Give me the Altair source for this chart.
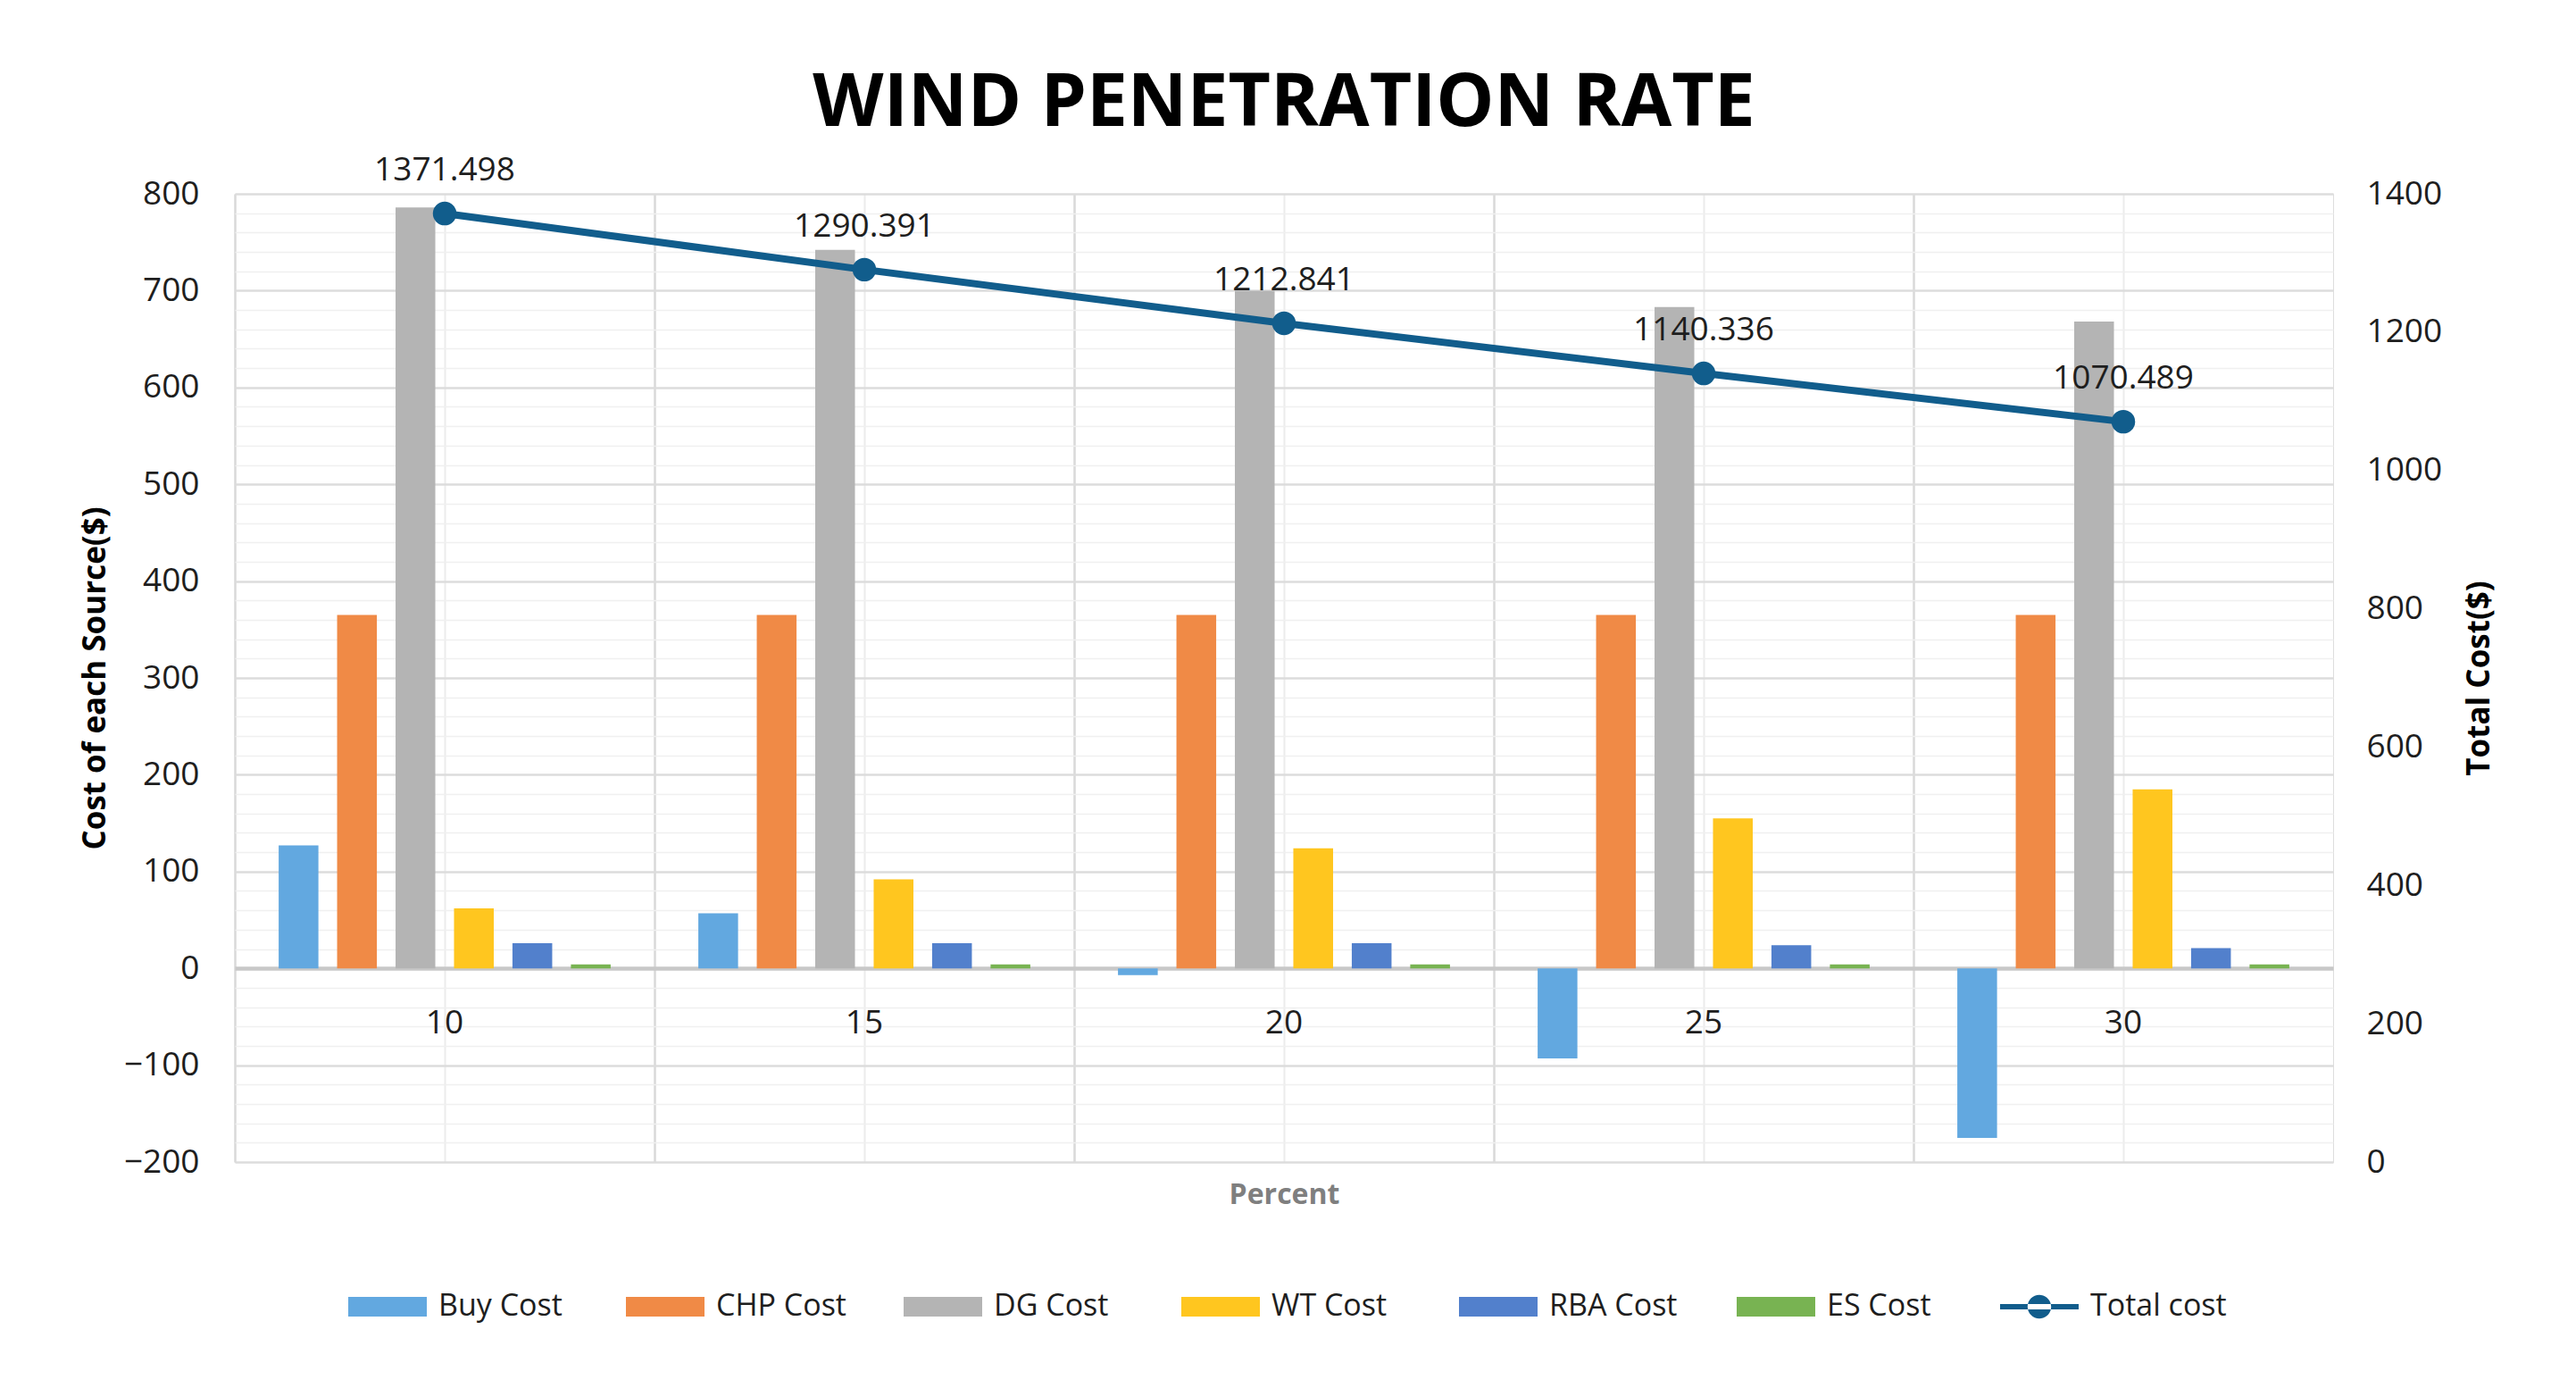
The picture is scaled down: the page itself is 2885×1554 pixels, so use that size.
import altair as alt
import pandas as pd

# ---- data ----
percent = [10, 15, 20, 25, 30]
series = ["Buy Cost", "CHP Cost", "DG Cost", "WT Cost", "RBA Cost", "ES Cost"]
buy_cost = [127, 57, -7, -93, -175]
chp_cost = [365, 365, 365, 365, 365]
dg_cost = [786, 742, 700, 683, 668]
wt_cost = [62, 92, 124, 155, 185]
rba_cost = [26, 26, 26, 24, 21]
es_cost = [4, 4, 4, 4, 4]
total_cost = [1371.498, 1290.391, 1212.841, 1140.336, 1070.489]
total_name = ["Total cost"] * 5

left_ticks = list(range(-200, 801, 20))
right_ticks = [0, 200, 400, 600, 800, 1000, 1200, 1400]

colors = ["#62A8E0", "#F08A46", "#B4B4B4", "#FFC61F", "#5280CC", "#78B352"]
LINE = "#115D8C"

rows = []
for i, p in enumerate(percent):
    for s, vals in zip(series, [buy_cost, chp_cost, dg_cost, wt_cost, rba_cost, es_cost]):
        rows.append({"Percent": p, "Series": s, "Cost": vals[i]})
bars_df = pd.DataFrame(rows)
total_df = pd.DataFrame({"Percent": percent, "Total": total_cost, "Name": total_name})

FONT = "Open Sans"
TXT = "#1e1e1e"
x_scale = alt.Scale(paddingInner=0, paddingOuter=0)

rect_path = "M-1,-0.25H1V0.25H-1Z"
line_path = "M-1,-0.07H1V0.07H-1Z M-0.3,0A0.3,0.3 0 1,0 0.3,0A0.3,0.3 0 1,0 -0.3,0Z"

LEG_Y = 1202

bar_legend = alt.Legend(
    orient="none", legendX=127, legendY=LEG_Y, direction="horizontal", title=None,
    columns=6, gridAlign="all",
    symbolType=rect_path, symbolSize=7744, symbolStrokeWidth=0,
    labelFontSize=34, labelFont=FONT, labelOffset=13, columnPadding=64,
    labelColor=TXT, labelLimit=400,
)
line_legend = alt.Legend(
    orient="none", legendX=1977, legendY=LEG_Y, direction="horizontal", title=None,
    symbolType=line_path, symbolSize=7744, symbolStrokeWidth=0, symbolFillColor=LINE,
    labelFontSize=34, labelFont=FONT, labelOffset=13,
    labelColor=TXT, labelLimit=400,
)

bars = alt.Chart(bars_df).mark_bar().encode(
    x=alt.X("Percent:O", scale=x_scale,
            axis=alt.Axis(orient="bottom", offset=-217, title=None, labelAngle=0,
                          domain=False, ticks=False, labelPadding=43, labelFontSize=37,
                          labelFont=FONT, labelColor=TXT,
                          grid=True, gridColor="#ececec", gridWidth=2)),
    xOffset=alt.XOffset("Series:N", sort=series,
                        scale=alt.Scale(paddingInner=0.32, paddingOuter=0.75)),
    y=alt.Y("Cost:Q", scale=alt.Scale(domain=[-200, 800], nice=False),
            axis=alt.Axis(values=left_ticks, labelOverlap=False,
                          labelExpr="datum.value % 100 === 0 ? datum.label : ''",
                          domain=False, ticks=False, labelPadding=40, labelFontSize=37,
                          labelFont=FONT, labelColor=TXT, title="Cost of each Source($)",
                          titleFont=FONT, titleFontSize=35, titleFontWeight="bold",
                          titleColor="#000000", titlePadding=14,
                          gridColor={"condition": [
                              {"test": "datum.value === 0", "value": "#c8c8c8"},
                              {"test": "datum.value % 100 === 0", "value": "#dcdcdc"}],
                              "value": "#f0f0f0"},
                          gridWidth={"condition": [
                              {"test": "datum.value === 0", "value": 4.5},
                              {"test": "datum.value % 100 === 0", "value": 2.5}],
                              "value": 1.5})),
    color=alt.Color("Series:N", scale=alt.Scale(domain=series, range=colors),
                    legend=bar_legend),
)

base = alt.Chart(total_df).encode(
    x=alt.X("Percent:O", scale=x_scale,
            axis=alt.Axis(orient="bottom", bandPosition=0, grid=True, gridColor="#d9d9d9",
                          gridWidth=2.5, labels=False, ticks=False, domain=False,
                          title="Percent", titleFont=FONT, titleFontSize=32,
                          titleFontWeight="bold", titleColor="#7f7f7f", titlePadding=21)),
    y=alt.Y("Total:Q", scale=alt.Scale(domain=[0, 1400], nice=False),
            axis=alt.Axis(orient="right", values=right_ticks, format="d", grid=False,
                          ticks=False, domain=False, labelPadding=37, labelFontSize=37,
                          labelFont=FONT, labelColor=TXT, title="Total Cost($)",
                          titleAngle=270, titleFont=FONT, titleFontSize=35,
                          titleFontWeight="bold", titleColor="#000000", titlePadding=60)),
)
line = base.mark_line(strokeWidth=8).encode(
    stroke=alt.Stroke("Name:N", scale=alt.Scale(domain=["Total cost"], range=[LINE]),
                      legend=line_legend))
pts = base.mark_circle(color=LINE, size=700, opacity=1)
txt = base.mark_text(dy=-48, fontSize=37, font=FONT, color=TXT).encode(
    text=alt.Text("Total:Q", format=".3f"))

chart = alt.layer(bars, alt.layer(line, pts, txt)).resolve_scale(
    y="independent").resolve_axis(x="independent").properties(
    width=2350, height=1084,
    autosize=alt.AutoSizeParams(type="none"),
    padding={"left": 255, "top": 209, "right": 264, "bottom": 245},
    title=alt.TitleParams("WIND PENETRATION RATE", fontSize=82, font=FONT,
                          fontWeight="bold", anchor="middle", offset=14, color="#000000"),
).configure_view(stroke="#d9d9d9", strokeWidth=2.5).configure(background="white")

chart.save("out.html", embed_options={"renderer": "svg", "actions": False})
